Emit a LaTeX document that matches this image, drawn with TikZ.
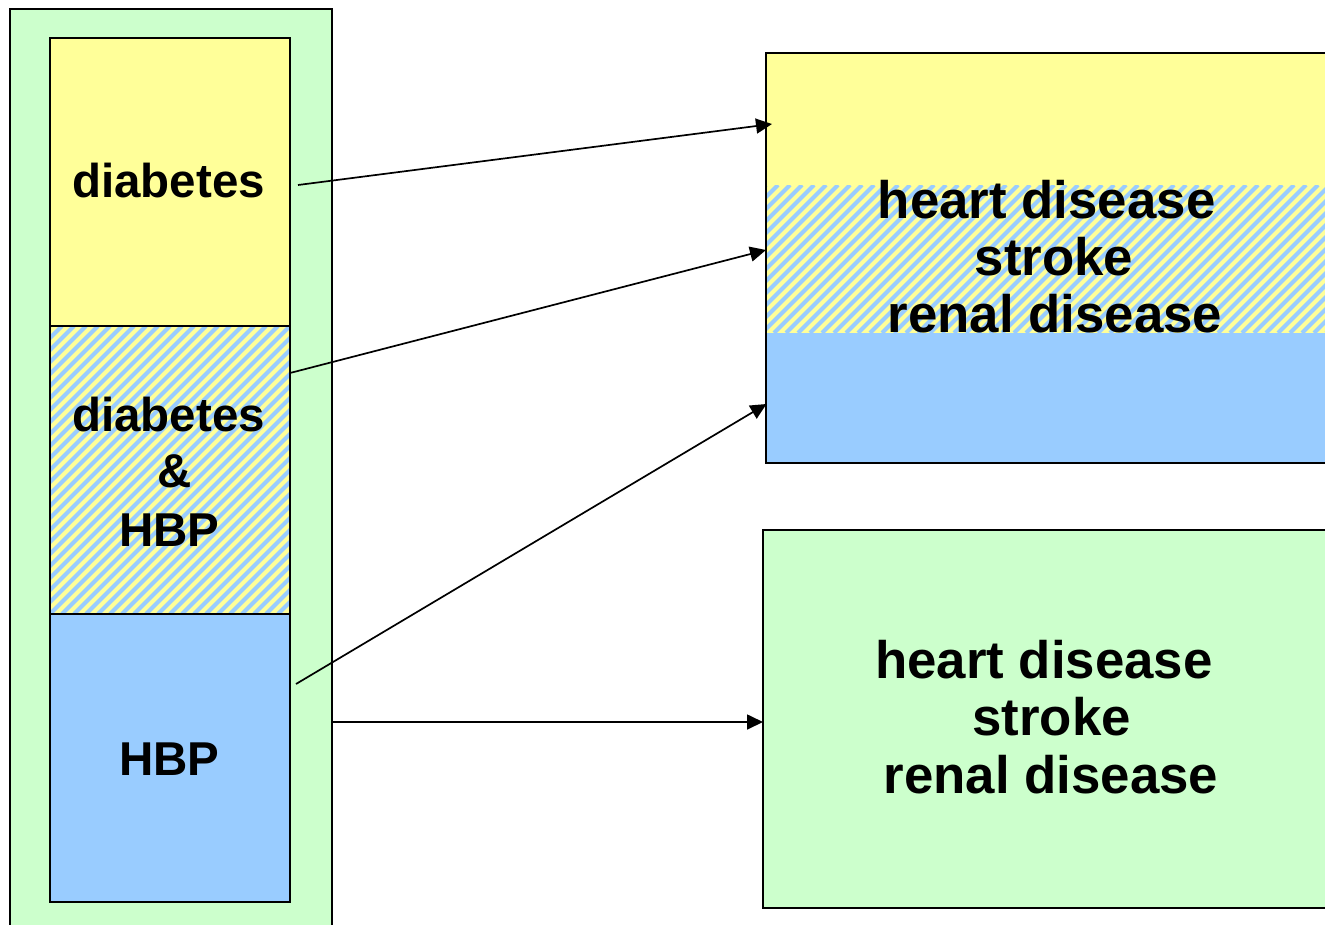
\documentclass[tikz,border=0pt]{standalone}
\usepackage{fontspec}
\setmainfont{Liberation Sans}
\usetikzlibrary{arrows.meta}
\definecolor{pyellow}{HTML}{FFFF99}
\definecolor{pblue}{HTML}{99CCFF}
\definecolor{pgreen}{HTML}{CCFFCC}
\tikzset{
  boxline/.style={draw=black, line width=1.5pt},
  hatchline/.style={draw=pblue, line width=4pt},
  lefttext/.style={anchor=base, inner sep=0pt, font=\fontsize{47.5}{57}\selectfont\bfseries},
  righttext/.style={anchor=base, inner sep=0pt, font=\fontsize{52.8}{57}\selectfont\bfseries},
  conn/.style={draw=black, line width=1.7pt, -{Triangle[length=16pt,width=15pt]}}
}
\begin{document}
\begin{tikzpicture}[x=1pt,y=-1pt]
\clip (0,0) rectangle (1325,924);
\fill[white] (0,0) rectangle (1325,924);
% left outer green panel
\fill[pgreen] (10,9) rectangle (332,940);
\draw[boxline] (10,9) rectangle (332,940);
% left column
\fill[pyellow] (50,38) rectangle (290,326);
\fill[pyellow] (50,326) rectangle (290,614);
\begin{scope}
  \clip (50,326) rectangle (290,614);
  \foreach \k in {0,...,46} {
    \draw[hatchline] ({50-288+\k*12},614) -- ++(288,-288);
  }
\end{scope}
\fill[pblue] (50,614) rectangle (290,902);
\draw[boxline] (50,38) rectangle (290,902);
\draw[boxline] (50,326) -- (290,326);
\draw[boxline] (50,614) -- (290,614);
% right top box
\fill[pyellow] (766,53) rectangle (1340,185);
\fill[pyellow] (766,185) rectangle (1340,333);
\begin{scope}
  \clip (766,185) rectangle (1340,333);
  \foreach \k in {0,...,62} {
    \draw[hatchline] ({766-148+\k*12},333) -- ++(148,-148);
  }
\end{scope}
\fill[pblue] (766,333) rectangle (1340,463);
\draw[boxline] (766,53) rectangle (1340,463);
% right bottom box
\fill[pgreen] (763,530) rectangle (1340,908);
\draw[boxline] (763,530) rectangle (1340,908);
% left texts
\node[lefttext] (t1) at (168.5,197) {diabetes};
\node[lefttext] (t2) at (168.5,431) {diabetes};
\node[lefttext] (t3) at (175,487) {\&};
\node[lefttext] (t4) at (169.5,546) {HBP};
\node[lefttext] (t5) at (169.5,775) {HBP};
% right top texts
\node[righttext] (r1) at (1046.7,218) {heart disease};
\node[righttext] (r2) at (1054,275) {stroke};
\node[righttext] (r3) at (1055,332) {renal disease};
% right bottom texts
\node[righttext] (b1) at (1044,678) {heart disease};
\node[righttext] (b2) at (1051.5,735) {stroke};
\node[righttext] (b3) at (1051,793) {renal disease};
% arrow endpoints
\coordinate (a1s) at (298,185);
\coordinate (a1e) at (772,124);
\coordinate (a2s) at (290,373);
\coordinate (a2e) at (766,250);
\coordinate (a3s) at (296,684);
\coordinate (a3e) at (766.5,404);
\coordinate (a4s) at (332,722);
\coordinate (a4e) at (763,722);
\draw[conn] (a1s) -- (a1e);
\draw[conn] (a2s) -- (a2e);
\draw[conn] (a3s) -- (a3e);
\draw[conn] (a4s) -- (a4e);
\end{tikzpicture}
\end{document}
